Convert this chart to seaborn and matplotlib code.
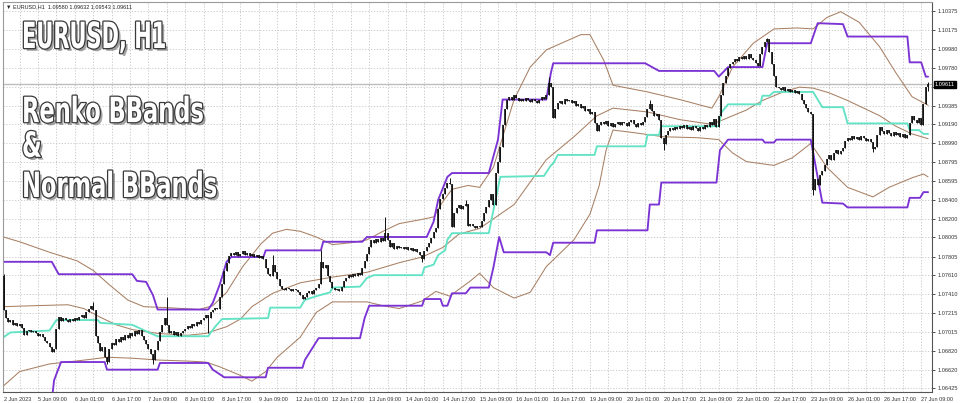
import numpy as np
import pandas as pd
import matplotlib
matplotlib.use("Agg")
import matplotlib.pyplot as plt
import matplotlib.patheffects as pe
import matplotlib.transforms as mtransforms
import seaborn as sns

# ---------------- data ----------------
first_open = 1.0760
closes = [
    1.0725,
    1.0716, 1.0712, 1.0714, 1.0709, 1.0711, 1.0708, 1.0710, 1.0706,
    1.0698,
    1.0702, 1.0704, 1.0701, 1.0703, 1.0700, 1.0697, 1.0699,
    1.0696, 1.0692, 1.0690, 1.0686, 1.0681,
    1.0684, 1.0705, 1.0717,
    1.0713, 1.0716, 1.0714, 1.0712, 1.0715, 1.0713, 1.0716, 1.0714, 1.0717, 1.0719, 1.0716, 1.0722, 1.0726, 1.0729,
    1.0724, 1.0697,
    1.0690, 1.0682, 1.0686, 1.0675, 1.0670,
    1.0684, 1.0690, 1.0688, 1.0694, 1.0691, 1.0696, 1.0693, 1.0698, 1.0695, 1.0700, 1.0697, 1.0702, 1.0699, 1.0704, 1.0697,
    1.0693, 1.0689, 1.0684, 1.0678, 1.0672,
    1.0683, 1.0692, 1.0701, 1.0709, 1.0716,
    1.0709,
    1.0700, 1.0702, 1.0698, 1.0701, 1.0697, 1.0700, 1.0703,
    1.0705, 1.0708, 1.0706, 1.0710, 1.0708, 1.0712, 1.0710, 1.0714, 1.0716, 1.0719,
    1.0716,
    1.0722, 1.0725, 1.0727, 1.0726,
    1.0738, 1.0752, 1.0765, 1.0774, 1.0781,
    1.0784, 1.0782, 1.0785, 1.0781, 1.0783, 1.0786, 1.0782, 1.0784, 1.0781, 1.0783, 1.0780, 1.0782, 1.0779, 1.0781, 1.0778,
    1.0768, 1.0762, 1.0760, 1.0772, 1.0764, 1.0757, 1.0750,
    1.0747, 1.0745, 1.0748, 1.0746, 1.0744, 1.0747, 1.0745, 1.0743, 1.0740, 1.0736,
    1.0738,
    1.0742, 1.0744, 1.0741, 1.0745, 1.0748, 1.0752,
    1.0775,
    1.0768, 1.0772, 1.0760, 1.0754,
    1.0748, 1.0745, 1.0747, 1.0744, 1.0749,
    1.0755, 1.0758, 1.0761, 1.0759, 1.0762, 1.0760, 1.0763, 1.0761,
    1.0768, 1.0776, 1.0783, 1.0790,
    1.0798, 1.0795, 1.0799, 1.0796, 1.0800, 1.0797,
    1.0805,
    1.0798, 1.0790, 1.0795, 1.0788, 1.0792,
    1.0789, 1.0791, 1.0788, 1.0790, 1.0787, 1.0789, 1.0786, 1.0788, 1.0785, 1.0782,
    1.0778,
    1.0786, 1.0790, 1.0795, 1.0800, 1.0806, 1.0810,
    1.0830, 1.0841, 1.0846, 1.0852, 1.0858, 1.0856,
    1.0811,
    1.0826, 1.0831, 1.0834, 1.0830, 1.0833, 1.0836,
    1.0812,
    1.0815, 1.0812, 1.0810, 1.0813, 1.0811,
    1.0818, 1.0826, 1.0832, 1.0840, 1.0846,
    1.0835,
    1.0868, 1.0880,
    1.0895, 1.0918, 1.0935,
    1.0945,
    1.0948, 1.0945, 1.0950, 1.0947, 1.0944, 1.0946, 1.0943, 1.0947, 1.0945, 1.0942, 1.0946, 1.0944, 1.0941, 1.0945, 1.0948, 1.0946, 1.0950,
    1.0962, 1.0958,
    1.0926,
    1.0935, 1.0941, 1.0944, 1.0940, 1.0946, 1.0943, 1.0945, 1.0941, 1.0943, 1.0938, 1.0940, 1.0936, 1.0938, 1.0933, 1.0935, 1.0930, 1.0932,
    1.0920, 1.0912, 1.0918,
    1.0922, 1.0919, 1.0923, 1.0917, 1.0920, 1.0916, 1.0919, 1.0921, 1.0918, 1.0922, 1.0920, 1.0917, 1.0921, 1.0924, 1.0919, 1.0916, 1.0920, 1.0918, 1.0922, 1.0927, 1.0935,
    1.0940,
    1.0933, 1.0928, 1.0930, 1.0924,
    1.0905, 1.0898,
    1.0908, 1.0912, 1.0915, 1.0913,
    1.0916, 1.0914, 1.0917, 1.0915, 1.0918, 1.0914, 1.0916, 1.0913, 1.0917, 1.0915, 1.0912, 1.0916, 1.0914, 1.0918, 1.0916,
    1.0922, 1.0918, 1.0925, 1.0916, 1.0928,
    1.0950, 1.0962,
    1.0970, 1.0978, 1.0982, 1.0984,
    1.0987, 1.0985, 1.0990, 1.0988, 1.0991, 1.0987, 1.0993, 1.0989, 1.0986, 1.0983,
    1.0980,
    1.0993, 1.1000, 1.1005, 1.1008,
    1.0995, 1.0982,
    1.0970, 1.0958,
    1.0957, 1.0955, 1.0958, 1.0954, 1.0956, 1.0953, 1.0955, 1.0952, 1.0954, 1.0951,
    1.0945, 1.0940, 1.0936, 1.0932, 1.0930,
    1.0850,
    1.0862, 1.0855, 1.0866, 1.0870,
    1.0876, 1.0883, 1.0887, 1.0882, 1.0889, 1.0892, 1.0888, 1.0891, 1.0894,
    1.0902, 1.0905, 1.0903, 1.0907, 1.0904, 1.0906, 1.0903, 1.0907, 1.0905, 1.0902, 1.0904, 1.0900,
    1.0893, 1.0895,
    1.0908, 1.0916,
    1.0912, 1.0909, 1.0913, 1.0910, 1.0907, 1.0911, 1.0908, 1.0910, 1.0906, 1.0909, 1.0905, 1.0908,
    1.0920, 1.0928,
    1.0924, 1.0920, 1.0926, 1.0918,
    1.0940, 1.0958, 1.0961,
]
spike_high = {0: 1.0762, 39: 1.0733, 71: 1.0738, 117: 1.0782, 138: 1.0787,
              166: 1.0822, 194: 1.0863, 201: 1.0840, 237: 1.0969, 281: 1.0945,
              332: 1.1010, 402: 1.09632}
spike_low = {45: 1.0668, 65: 1.0668, 89: 1.0700, 131: 1.0736, 182: 1.0775,
             287: 1.0892, 352: 1.0845, 378: 1.0890, 402: 1.09543}

# Normal Bollinger Bands (bar index, price)
bb_up_idx = [0, 7, 20, 32, 39, 46, 54, 61, 71, 85, 91, 97, 104, 112, 117, 123, 129, 136, 143, 151,
             158, 165, 172, 181, 187, 191, 195, 202, 207, 213, 222, 229, 236, 251, 255, 261, 265, 280,
             294, 308, 311, 317, 326, 335, 345, 352, 358, 364, 372, 381, 388, 395, 402]
bb_up = [1.0801, 1.0796, 1.0785, 1.0776, 1.0766, 1.0751, 1.0735, 1.0728, 1.0727, 1.0725,
         1.0729, 1.0743, 1.0770, 1.0794, 1.0805, 1.0809, 1.0807, 1.0801, 1.0793, 1.0795,
         1.0798, 1.0807, 1.0815, 1.0819, 1.0822, 1.0838, 1.0851, 1.0855, 1.0853, 1.0874,
         1.0945, 1.0979, 1.0997, 1.1013, 1.1013, 1.0986, 1.0960, 1.0953, 1.0945, 1.0936,
         1.0948, 1.0979, 1.1004, 1.1019, 1.1020, 1.1019, 1.1031, 1.1037, 1.1026, 1.1000,
         1.0973, 1.0948, 1.0939]
bb_mid_idx = [0, 13, 28, 35, 42, 49, 56, 67, 80, 88, 97, 103, 108, 117, 129, 143, 158, 172, 182, 191,
              198, 207, 222, 236, 248, 258, 265, 280, 294, 308, 323, 330, 338, 346, 352, 359, 367, 381,
              388, 395, 402]
bb_mid = [1.0728, 1.0729, 1.0730, 1.0726, 1.0717, 1.0709, 1.0704, 1.0700, 1.0698, 1.0700,
          1.0707, 1.0715, 1.0728, 1.0742, 1.0753, 1.0759, 1.0764, 1.0774, 1.0780, 1.0790,
          1.0804, 1.0810, 1.0835, 1.0882, 1.0906, 1.0928, 1.0936, 1.0932, 1.0924, 1.0919,
          1.0934, 1.0944, 1.0952, 1.0958, 1.0957, 1.0952, 1.0944, 1.0928, 1.0917, 1.0909, 1.0904]
bb_low_idx = [0, 7, 20, 35, 45, 56, 68, 80, 88, 94, 103, 108, 114, 119, 129, 136, 143, 158, 165, 172,
              182, 188, 194, 203, 207, 213, 222, 229, 236, 248, 255, 259, 262, 265, 272, 287, 302, 311,
              317, 323, 335, 343, 351, 358, 367, 378, 385, 395, 400, 402]
bb_low = [1.0645, 1.0660, 1.0668, 1.0672, 1.0675, 1.0674, 1.0672, 1.0671, 1.0670, 1.0665,
          1.0656, 1.0650, 1.0660, 1.0675, 1.0696, 1.0722, 1.0733, 1.0733, 1.0729, 1.0726,
          1.0734, 1.0744, 1.0739, 1.0755, 1.0763, 1.0748, 1.0737, 1.0743, 1.0770, 1.0798,
          1.0825, 1.0855, 1.0892, 1.0913, 1.0911, 1.0906, 1.0905, 1.0903, 1.0889, 1.0880,
          1.0876, 1.0884, 1.0899, 1.0874, 1.0853, 1.0843, 1.0853, 1.0863, 1.0867, 1.0864]

# Renko Bollinger Bands (bar index, price)
rk_up_idx = [0, 21, 24, 56, 58, 62, 65, 67, 89, 91, 94, 97, 99, 113, 114, 138, 139, 156, 158, 184,
             187, 189, 193, 195, 211, 215, 217, 236, 238, 239, 279, 285, 309, 311, 315, 330, 332, 351,
             354, 365, 367, 393, 394, 399, 401, 402]
rk_up = [1.0775, 1.0775, 1.0762, 1.0762, 1.0755, 1.0754, 1.0740, 1.0725, 1.0725, 1.0732,
         1.0751, 1.0775, 1.0780, 1.0780, 1.0787, 1.0787, 1.0796, 1.0796, 1.0801, 1.0801,
         1.0817, 1.0840, 1.0864, 1.0868, 1.0868, 1.0903, 1.0945, 1.0945, 1.0973, 1.0983,
         1.0983, 1.0975, 1.0975, 1.0969, 1.0979, 1.0979, 1.1004, 1.1004, 1.1025, 1.1024,
         1.1011, 1.1011, 1.0984, 1.0984, 1.0969, 1.0969]
rk_lo_idx = [21, 22, 25, 44, 45, 67, 68, 89, 91, 96, 114, 115, 130, 131, 137, 155, 157, 159, 182, 183,
             190, 191, 193, 195, 201, 203, 211, 213, 215.5, 217.5, 236, 237.6, 239, 257, 258, 280, 281,
             285, 286, 310, 311.5, 315, 330, 331, 335, 336, 351, 356, 365, 367, 393, 394, 398.5, 400, 402]
rk_lo = [1.0630, 1.0651, 1.0670, 1.0670, 1.0662, 1.0662, 1.0669, 1.0669, 1.0662, 1.0654,
         1.0654, 1.0664, 1.0664, 1.0672, 1.0695, 1.0695, 1.0716, 1.0729, 1.0729, 1.0736,
         1.0736, 1.0729, 1.0729, 1.0742, 1.0742, 1.0748, 1.0748, 1.0769, 1.0801, 1.0785,
         1.0785, 1.0782, 1.0795, 1.0795, 1.0808, 1.0808, 1.0835, 1.0835, 1.0858, 1.0858,
         1.0892, 1.0903, 1.0903, 1.0900, 1.0900, 1.0903, 1.0903, 1.0837, 1.0836, 1.0832,
         1.0832, 1.0842, 1.0842, 1.0848, 1.0848]
rk_mid_idx = [0, 3, 20, 23, 41, 42, 56, 64, 67, 89, 92, 95, 115, 116, 129, 131, 136, 142, 143, 155,
              158, 161, 182, 183, 187, 189, 192, 193, 195, 211, 212, 216, 235, 238, 239, 241, 257, 258,
              279, 280, 285, 286, 311, 312, 315, 329, 330, 333, 335, 352, 354, 356, 365, 367, 393, 394,
              398, 400, 402]
rk_mid = [1.0696, 1.0701, 1.0703, 1.0714, 1.0714, 1.0711, 1.0709, 1.0700, 1.0697, 1.0697,
          1.0707, 1.0715, 1.0716, 1.0727, 1.0727, 1.0735, 1.0739, 1.0743, 1.0748, 1.0749,
          1.0758, 1.0761, 1.0761, 1.0769, 1.0772, 1.0782, 1.0787, 1.0798, 1.0805, 1.0805,
          1.0817, 1.0864, 1.0865, 1.0876, 1.0878, 1.0887, 1.0887, 1.0896, 1.0896, 1.0908,
          1.0908, 1.0917, 1.0917, 1.0931, 1.0940, 1.0940, 1.0949, 1.0949, 1.0953, 1.0953,
          1.0945, 1.0937, 1.0937, 1.0920, 1.0920, 1.0913, 1.0913, 1.0909, 1.0909]

xlab_pos = [0, 15, 31, 47, 63, 79, 95, 111, 127, 143, 159, 175, 191, 207, 223, 239, 255, 271, 287,
            303, 319, 335, 351, 367, 383, 399]
xlab = ['2 Jun 2023', '5 Jun 09:00', '6 Jun 01:00', '6 Jun 17:00', '7 Jun 09:00', '8 Jun 01:00',
        '8 Jun 17:00', '9 Jun 09:00', '12 Jun 01:00', '12 Jun 17:00', '13 Jun 09:00', '14 Jun 01:00',
        '14 Jun 17:00', '15 Jun 09:00', '16 Jun 01:00', '16 Jun 17:00', '19 Jun 09:00', '20 Jun 01:00',
        '20 Jun 17:00', '21 Jun 09:00', '22 Jun 01:00', '22 Jun 17:00', '23 Jun 09:00', '26 Jun 01:00',
        '26 Jun 17:00', '27 Jun 09:00']
ytick_vals = [1.10375, 1.10175, 1.09980, 1.09780, 1.09580, 1.09385, 1.09190, 1.08990, 1.08795,
              1.08595, 1.08400, 1.08200, 1.08005, 1.07805, 1.07610, 1.07410, 1.07215, 1.07015,
              1.06820, 1.06620, 1.06425]
ytick_labels = ['1.10375', '1.10175', '1.09980', '1.09780', '', '1.09385', '1.09190', '1.08990',
                '1.08795', '1.08595', '1.08400', '1.08200', '1.08005', '1.07805', '1.07610',
                '1.07410', '1.07215', '1.07015', '1.06820', '1.06620', '1.06425']
last_price = 1.09611
header = "\u25BC EURUSD,H1  1.09580 1.09632 1.09543 1.09611"
titles = ["EURUSD, H1", "Renko BBands", "&", "Normal BBands"]


class Squeeze(pe.AbstractPathEffect):
    """Draw the text glyphs horizontally condensed (text stays a real Text artist)."""
    def __init__(self, sx, inner):
        super().__init__()
        self.sx = sx
        self.inner = inner

    def draw_path(self, renderer, gc, tpath, affine, rgbFace=None):
        aff = mtransforms.Affine2D().scale(self.sx, 1.0) + affine
        self.inner.draw_path(renderer, gc, tpath, aff, rgbFace)


# ---------------- figure ----------------
sns.set_style("white")
plt.rcParams['font.family'] = ['Liberation Sans', 'DejaVu Sans']

W, H = 960, 403
fig = plt.figure(figsize=(W / 100, H / 100), dpi=100)
fig.patch.set_facecolor('white')
ax = fig.add_axes([3 / W, 11 / H, 929 / W, 390 / H])
ax.set_facecolor('white')
ax.set_xlim(-0.22, 403.7)
ax.set_ylim(1.06386, 1.10472)

# grid
grid_kw = dict(color='#c4c4c4', lw=0.6, ls=(0, (1.5, 2.0)), zorder=0)
for v in ytick_vals:
    ax.axhline(v, **grid_kw)
for gx in range(7, 404, 8):
    ax.axvline(gx, **grid_kw)

# bid line
ax.axhline(last_price, color='#bdbdbd', lw=1.0, zorder=1)

# bands
brown = '#A88064'
purple = '#7B33D4'
aqua = '#62E3C5'
for xi, yv, col, lw in [(bb_up_idx, bb_up, brown, 0.75), (bb_mid_idx, bb_mid, brown, 0.75),
                        (bb_low_idx, bb_low, brown, 0.75),
                        (rk_up_idx, rk_up, purple, 1.35), (rk_lo_idx, rk_lo, purple, 1.35),
                        (rk_mid_idx, rk_mid, aqua, 1.35)]:
    sns.lineplot(x=xi, y=yv, ax=ax, color=col, linewidth=lw, estimator=None, sort=False,
                 legend=False, zorder=2)

# candles
n = len(closes)
idx = np.arange(n)
opens = np.array([first_open] + closes[:-1])
cl = np.array(closes)
hi = np.maximum(opens, cl)
lo = np.minimum(opens, cl)
for k, v in spike_high.items():
    if k < n:
        hi[k] = max(hi[k], v)
for k, v in spike_low.items():
    if k < n:
        lo[k] = min(lo[k], v)
ax.vlines(idx, lo, hi, color='#111111', lw=0.7, zorder=3)
ax.vlines(idx, np.minimum(opens, cl), np.maximum(opens, cl), color='#111111', lw=1.2, zorder=3)

# axes styling
ax.yaxis.tick_right()
ax.set_yticks(ytick_vals)
ax.set_yticklabels(ytick_labels)
ax.set_xticks(xlab_pos)
ax.set_xticklabels(xlab, ha='left')
ax.tick_params(axis='y', labelsize=4.1, length=2.5, width=0.6, pad=1.5, colors='#333333', direction='out')
ax.tick_params(axis='x', labelsize=4.0, length=2.5, width=0.6, pad=1.2, colors='#333333', direction='out')
for s in ['left', 'top']:
    ax.spines[s].set_color('#9a9a9a')
    ax.spines[s].set_linewidth(0.8)
for s in ['right', 'bottom']:
    ax.spines[s].set_color('#555555')
    ax.spines[s].set_linewidth(0.8)
ax.set_xlabel('')
ax.set_ylabel('')

# current price box
trans = mtransforms.blended_transform_factory(ax.transAxes, ax.transData)
ax.text(1.003, last_price, f"{last_price:.5f}", transform=trans, fontsize=4.1, color='white',
        va='center', ha='left', zorder=5,
        bbox=dict(boxstyle='square,pad=0.2', fc='black', ec='black'))

# header
ax.text(0.003, 0.987, header, transform=ax.transAxes, fontsize=4.0, color='#222222',
        va='center', ha='left', zorder=5)

# overlay titles (white, dark outline, soft shadow, condensed)
def title_effects(sx):
    return [Squeeze(sx, pe.SimplePatchShadow(offset=(2.0, -2.0), shadow_rgbFace='#555555', alpha=0.55)),
            Squeeze(sx, pe.Stroke(linewidth=1.8, foreground='#3a3a3a')),
            Squeeze(sx, pe.Normal())]

for txt, yb, fs, sx in [(titles[0], 0.882, 26, 0.58), (titles[1], 0.692, 25, 0.65),
                        (titles[2], 0.603, 25, 0.65), (titles[3], 0.500, 25, 0.65)]:
    ax.text(0.0205, yb, txt, transform=ax.transAxes, fontsize=fs, fontweight='bold',
            family=['DejaVu Sans'], color='white', va='baseline', ha='left', zorder=6,
            path_effects=title_effects(sx))

fig.savefig('out.png', dpi=100, facecolor='white')
